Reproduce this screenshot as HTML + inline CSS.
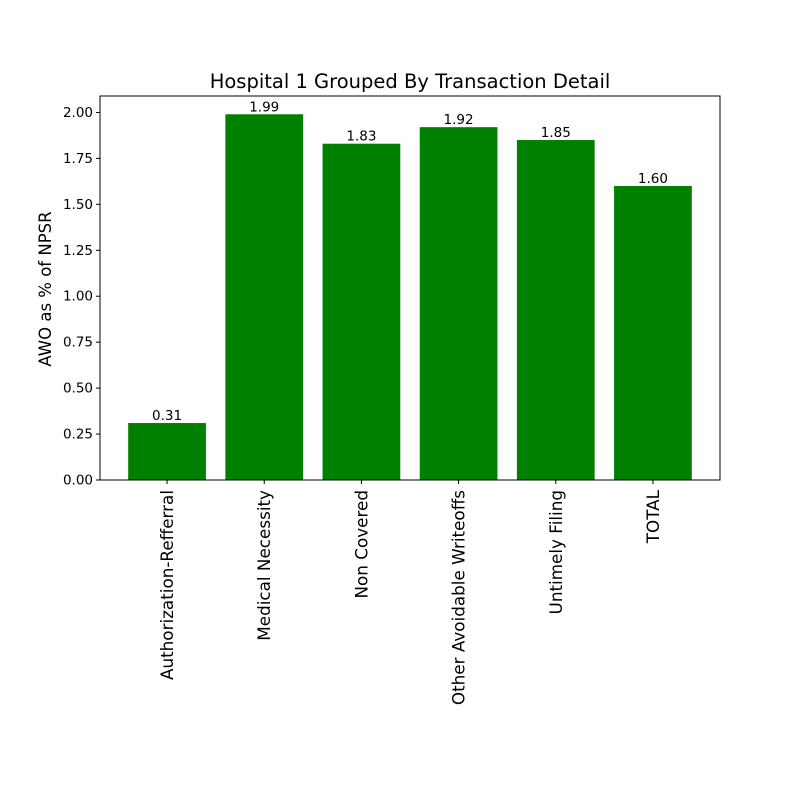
<!DOCTYPE html>
<html><head><meta charset="utf-8"><style>
body{margin:0;background:#fff}
svg{font-family:"DejaVu Sans","Liberation Sans",sans-serif}
</style></head><body>
<svg id="chart" width="800" height="800" xmlns="http://www.w3.org/2000/svg">
<rect width="800" height="800" fill="#fff"/>
<text x="410" y="88" text-anchor="middle" font-size="19.5">Hospital 1 Grouped By Transaction Detail</text>
<text transform="translate(51,289) rotate(-90)" text-anchor="middle" font-size="16.5">AWO as % of NPSR</text>
<g id="plot"></g>
</svg>
<script>
const categories=["Authorization-Refferral","Medical Necessity","Non Covered","Other Avoidable Writeoffs","Untimely Filing","TOTAL"];
const values=[0.31,1.99,1.83,1.92,1.85,1.60];
const yTicks=[0,0.25,0.5,0.75,1.0,1.25,1.5,1.75,2.0];
const L=100,R=720,T=96,B=480;
const ymax=Math.max(...values)*1.05;
const n=categories.length,xmin=-0.4-0.05*(n-0.2),xmaxv=n-1+0.4+0.05*(n-0.2);
const X=v=>L+(v-xmin)/(xmaxv-xmin)*(R-L);
const Y=v=>B-v/ymax*(B-T);
const g=document.getElementById('plot');
const NS="http://www.w3.org/2000/svg";
function mk(t,a){const e=document.createElementNS(NS,t);for(const k in a)e.setAttribute(k,a[k]);g.appendChild(e);return e;}
values.forEach((v,i)=>{
 const b=mk('rect',{x:X(i-0.4),y:Y(v),width:X(i+0.4)-X(i-0.4),height:B-Y(v),fill:'#008000'});
 
 
 const t=mk('text',{x:X(i),y:Y(v)-3,'text-anchor':'middle','font-size':13.5});
 t.textContent=v.toFixed(2);
 
 
 const tk=mk('line',{x1:X(i),x2:X(i),y1:B,y2:B+4,stroke:'#000'});
 
 
 const xl=mk('text',{transform:`translate(${X(i)+6},${B+10}) rotate(-90)`,'text-anchor':'end','font-size':16.8});
 xl.textContent=categories[i];
 
 
});
yTicks.forEach(v=>{
 const tk=mk('line',{x1:L-4,x2:L,y1:Y(v),y2:Y(v),stroke:'#000'});
 
 
 const t=mk('text',{x:L-7,y:Y(v)+4.5,'text-anchor':'end','font-size':13.5});
 t.textContent=v.toFixed(2);
 
 
});
const f=mk('rect',{x:L,y:T,width:R-L,height:B-T,fill:'none',stroke:'#000','stroke-width':1});


</script>
</body></html>
